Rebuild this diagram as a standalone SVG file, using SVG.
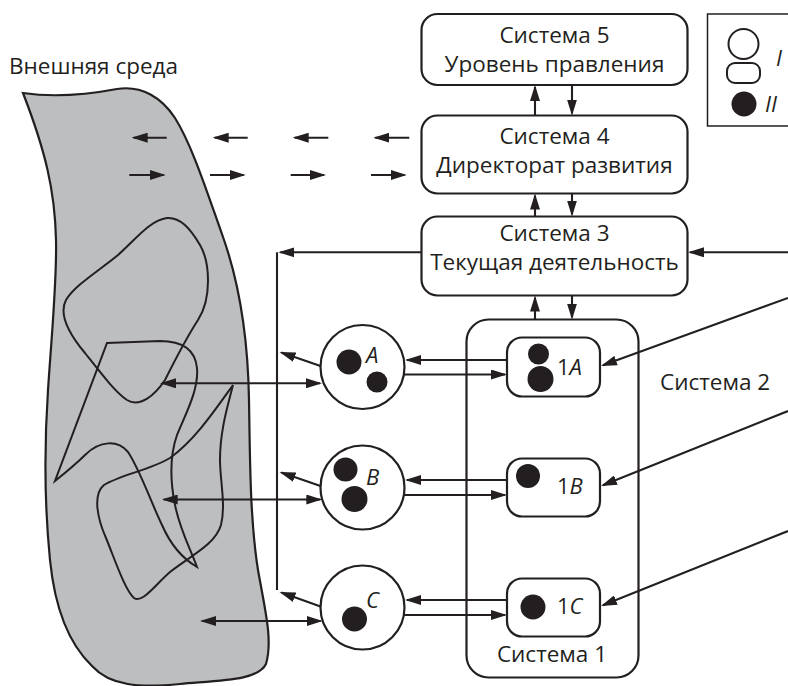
<svg xmlns="http://www.w3.org/2000/svg" width="788" height="686" viewBox="0 0 788 686">
<defs>
<marker id="ah" viewBox="0 0 16 10" refX="14" refY="5" markerWidth="16" markerHeight="10" markerUnits="userSpaceOnUse" orient="auto-start-reverse">
<path d="M0,0 L16,5 L0,10 z" fill="#231f20"/>
</marker>
<style>
.box{fill:#fff;stroke:#231f20;stroke-width:2.2}
.dot{fill:#231f20}
.ln{fill:none;stroke:#231f20;stroke-width:2.1}
.sq{fill:none;stroke:#231f20;stroke-width:2}
.t{font-family:"Open Sans","Liberation Sans",sans-serif;font-size:22.5px;fill:#231f20}
.s{font-size:22px}
.c{text-anchor:middle}
.i{font-style:italic}
</style>
</defs>
<rect width="788" height="686" fill="#fff"/>

<g id="environment">
<path d="M 23,93 C 50,97 85,95 117,89 C 142,85 162,98 175,118 C 192,145 207,192 223,237 C 240,285 248,340 249,400 C 250,460 250,520 258,570 C 265,610 273,640 266,664 C 258,680 225,680 180,684 C 140,688 110,686 92,666 C 70,645 55,610 50,560 C 45,510 44,450 48,390 C 52,330 57,280 56,240 C 55,190 45,150 23,93 Z" fill="#bcbec0" stroke="#231f20" stroke-width="2.2"/>
<path class="sq" d="M 167,218 C 150,220 135,240 118,255 C 100,270 75,285 66,300 C 58,315 70,335 85,353 C 100,372 115,392 127,400 C 140,408 155,395 165,380 C 175,360 185,340 198,320 C 212,298 210,262 200,245 C 190,228 180,217 167,218 Z"/>
<path class="sq" d="M 107,343 L 160,341 C 180,341 195,348 197,368 C 199,390 185,415 177,435 C 170,455 170,480 175,505 C 180,530 190,548 197,567 C 185,560 172,548 162,525 C 150,500 140,470 128,452 C 118,440 100,440 85,455 C 75,465 65,473 55,481 L 107,343 Z"/>
<path class="sq" d="M 233,385 C 215,410 195,440 170,458 C 150,470 120,475 104,485 C 92,495 98,520 106,538 C 115,560 125,590 134,598 C 142,604 155,585 170,572 C 190,556 215,545 221,525 C 226,505 220,480 220,460 C 220,430 228,405 233,385 Z"/>
<text class="t" x="9" y="74">Внешняя среда</text>
</g>

<g id="sys5">
<rect class="box" x="421.5" y="14" width="266" height="71" rx="16"/>
<text class="t c" x="554.5" y="43">Система 5</text>
<text class="t c" x="554.5" y="72">Уровень правления</text>
</g>
<g id="sys4">
<rect class="box" x="421.5" y="115.5" width="266" height="78" rx="16"/>
<text class="t c" x="554.5" y="144">Система 4</text>
<text class="t c" x="554.5" y="173">Директорат развития</text>
</g>
<g id="sys3">
<rect class="box" x="421.5" y="216.5" width="266" height="79" rx="16"/>
<text class="t c" x="554.5" y="241">Система 3</text>
<text class="t c" x="554.5" y="270">Текущая деятельность</text>
</g>

<g id="legend">
<rect x="707.5" y="14" width="100" height="112" fill="#fff" stroke="#231f20" stroke-width="1.5"/>
<circle cx="743.5" cy="44" r="15" fill="#fff" stroke="#231f20" stroke-width="2"/>
<rect x="727" y="63" width="33" height="20" rx="8" fill="#fff" stroke="#231f20" stroke-width="2"/>
<circle class="dot" cx="744" cy="104" r="12.5"/>
<text class="t s i" x="776" y="66">I</text>
<text class="t s i" x="765" y="112">II</text>
</g>

<g id="sys1">
<rect class="box" x="466.5" y="319.5" width="172" height="358" rx="22"/>
<text class="t c" x="552" y="662">Система 1</text>
</g>
<g id="sys2">
<text class="t" x="660" y="390">Система 2</text>
</g>

<g id="unitA">
<circle class="box" cx="362.5" cy="367" r="42"/>
<circle class="dot" cx="349" cy="362" r="12.5"/>
<circle class="dot" cx="377" cy="382" r="10.5"/>
<text class="t s i" x="366" y="363">A</text>
</g>
<g id="unitB">
<circle class="box" cx="362.5" cy="487.5" r="42"/>
<circle class="dot" cx="345.5" cy="469.5" r="12"/>
<circle class="dot" cx="354.5" cy="499" r="13"/>
<text class="t s i" x="366" y="485">B</text>
</g>
<g id="unitC">
<circle class="box" cx="362.5" cy="607.5" r="42"/>
<circle class="dot" cx="354.5" cy="619" r="12.5"/>
<text class="t s i" x="366" y="608">C</text>
</g>

<g id="op1A">
<rect class="box" x="507" y="337.5" width="93" height="59" rx="15"/>
<circle class="dot" cx="538.5" cy="354" r="10.5"/>
<circle class="dot" cx="540.5" cy="379" r="13"/>
<text class="t s" x="557" y="375">1<tspan class="i">A</tspan></text>
</g>
<g id="op1B">
<rect class="box" x="507" y="458.5" width="93" height="58" rx="15"/>
<circle class="dot" cx="528" cy="476" r="12"/>
<text class="t s" x="557" y="494">1<tspan class="i">B</tspan></text>
</g>
<g id="op1C">
<rect class="box" x="507" y="578.5" width="93" height="58" rx="15"/>
<circle class="dot" cx="533" cy="607" r="12.5"/>
<text class="t s" x="557" y="614">1<tspan class="i">C</tspan></text>
</g>

<g id="connectors" class="ln">
<path class="ln" d="M166.7,137.7 H133.7" marker-end="url(#ah)"/>
<path class="ln" d="M247.7,137.7 H214.7" marker-end="url(#ah)"/>
<path class="ln" d="M328.3,137.7 H294.7" marker-end="url(#ah)"/>
<path class="ln" d="M409.3,137.7 H375.3" marker-end="url(#ah)"/>
<path class="ln" d="M129.3,175 H163.7" marker-end="url(#ah)"/>
<path class="ln" d="M210,175 H243.7" marker-end="url(#ah)"/>
<path class="ln" d="M290.7,175 H324" marker-end="url(#ah)"/>
<path class="ln" d="M371,175 H404.7" marker-end="url(#ah)"/>
<path class="ln" d="M535,115.5 V87" marker-end="url(#ah)"/>
<path class="ln" d="M572,85 V113.5" marker-end="url(#ah)"/>
<path class="ln" d="M535,216.5 V195.5" marker-end="url(#ah)"/>
<path class="ln" d="M572,193.5 V214.5" marker-end="url(#ah)"/>
<path class="ln" d="M535,319.5 V297.5" marker-end="url(#ah)"/>
<path class="ln" d="M572,295.5 V317.5" marker-end="url(#ah)"/>
<path class="ln" d="M788,252.3 H690" marker-end="url(#ah)"/>
<path class="ln" d="M421.5,252.3 H280.3" marker-end="url(#ah)"/>
<path class="ln" d="M277,252.3 V590"/>
<path class="ln" d="M320.5,366 L281.4,352.6" marker-end="url(#ah)"/>
<path class="ln" d="M320.5,486 L281.4,472.6" marker-end="url(#ah)"/>
<path class="ln" d="M320.5,606.5 L281.4,592.6" marker-end="url(#ah)"/>
<path class="ln" d="M162,383.3 H320" marker-start="url(#ah)" marker-end="url(#ah)"/>
<path class="ln" d="M163.7,499.5 H320.3" marker-start="url(#ah)" marker-end="url(#ah)"/>
<path class="ln" d="M202,621 H320.7" marker-start="url(#ah)" marker-end="url(#ah)"/>
<path class="ln" d="M507,360 H407" marker-end="url(#ah)"/>
<path class="ln" d="M404,374.5 H505" marker-end="url(#ah)"/>
<path class="ln" d="M507,480 H407" marker-end="url(#ah)"/>
<path class="ln" d="M404,495 H505" marker-end="url(#ah)"/>
<path class="ln" d="M507,600 H407" marker-end="url(#ah)"/>
<path class="ln" d="M404,615 H505" marker-end="url(#ah)"/>
<path class="ln" d="M788,298 L602.9,365.3" marker-end="url(#ah)"/>
<path class="ln" d="M788,411 L602.9,485.2" marker-end="url(#ah)"/>
<path class="ln" d="M788,531 L602.9,605.2" marker-end="url(#ah)"/>
</g>
</svg>
